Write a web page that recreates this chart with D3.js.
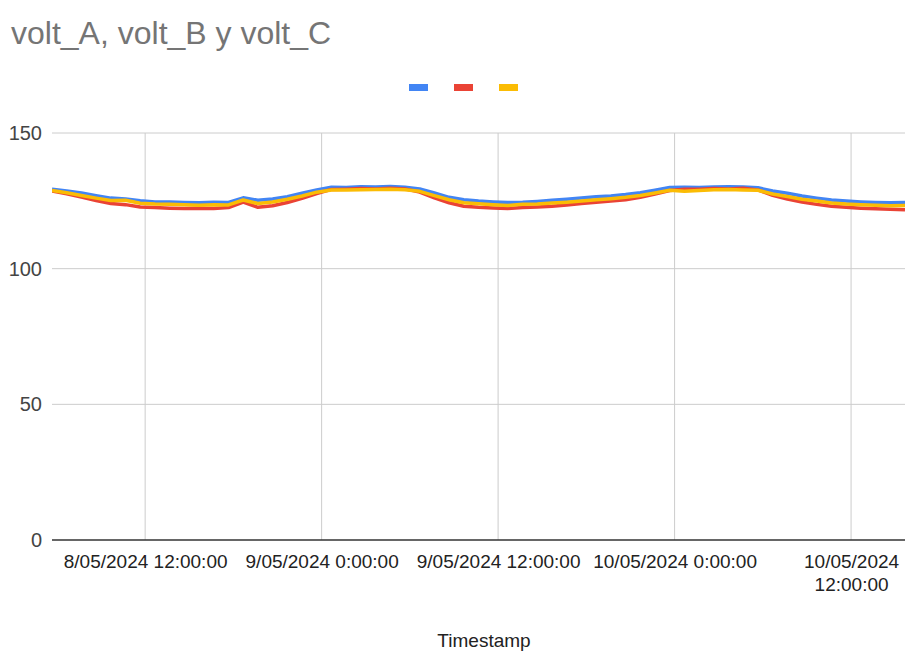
<!DOCTYPE html>
<html>
<head>
<meta charset="utf-8">
<script src="https://cdn.jsdelivr.net/npm/d3@7"></script>
<style>
  body { margin: 0; background: #fff; }
  svg { font-family: "Liberation Sans", Arial, sans-serif; }
  .grid line { stroke: #cccccc; stroke-width: 1; }
  .axis path { display: none; }
  .axis line { display: none; }
  .axis text { fill: #222; font-size: 19px; }
</style>
</head>
<body>
<div class="chart"></div>
<script>
// hourly readings, starting 8/05/2024 5:40
var startTime = new Date(2024, 4, 8, 5, 40);
var endTime = new Date(2024, 4, 10, 15, 40);

var voltA = [129.3, 128.6, 127.9, 126.9, 126.0, 125.7, 125.0, 124.6, 124.6, 124.4,
  124.3, 124.5, 124.4, 126.1, 125.2, 125.7, 126.5, 127.8, 129.0, 130.0,
  129.9, 130.2, 130.1, 130.3, 130.0, 129.4, 127.9, 126.3, 125.4, 124.9,
  124.6, 124.4, 124.5, 124.8, 125.2, 125.6, 126.0, 126.5, 126.8, 127.3,
  128.0, 128.9, 129.9, 130.0, 129.9, 130.1, 130.2, 130.1, 129.8, 128.6,
  127.8, 126.8, 126.0, 125.3, 124.9, 124.6, 124.4, 124.3, 124.4];

var voltB = [128.6, 127.6, 126.4, 125.1, 124.0, 123.6, 122.7, 122.5, 122.3, 122.2,
  122.3, 122.2, 122.5, 124.5, 122.6, 123.2, 124.4, 125.9, 127.7, 129.2,
  129.3, 129.5, 129.4, 129.6, 129.4, 128.2, 126.1, 124.3, 123.0, 122.6,
  122.4, 122.2, 122.5, 122.7, 123.0, 123.5, 124.0, 124.5, 124.9, 125.4,
  126.3, 127.5, 128.8, 129.3, 129.3, 129.5, 129.4, 129.6, 129.0, 127.0,
  125.7, 124.6, 123.7, 123.0, 122.6, 122.3, 122.1, 121.9, 121.7];

var voltC = [128.8, 128.0, 127.0, 126.0, 125.1, 125.2, 124.1, 123.8, 123.7, 123.6,
  123.4, 123.6, 123.5, 125.3, 124.0, 124.6, 125.6, 126.8, 128.2, 129.0,
  129.0, 129.1, 129.2, 129.3, 129.1, 128.5, 126.9, 125.4, 124.3, 123.9,
  123.6, 123.3, 123.7, 123.8, 124.2, 124.5, 124.9, 125.4, 125.8, 126.3,
  127.0, 127.9, 128.9, 128.5, 128.8, 129.1, 129.2, 129.0, 128.9, 127.5,
  126.6, 125.6, 124.9, 124.2, 123.8, 123.6, 123.4, 123.2, 123.3];

var seriesNames = ["volt_A", "volt_B", "volt_C"];
var seriesColors = ["#4285f4", "#ea4335", "#fbbc04"];

var tickDates = [
  new Date(2024, 4, 8, 12, 0), new Date(2024, 4, 9, 0, 0), new Date(2024, 4, 9, 12, 0),
  new Date(2024, 4, 10, 0, 0), new Date(2024, 4, 10, 12, 0)
];
var tickLabels = [
  ["8/05/2024 12:00:00"], ["9/05/2024 0:00:00"], ["9/05/2024 12:00:00"],
  ["10/05/2024 0:00:00"], ["10/05/2024", "12:00:00"]
];
var yTicks = [0, 50, 100, 150];

var width = 905, height = 652;
var margin = { top: 133, right: 0, bottom: 112, left: 52 };

var times = voltA.map(function(d, i) {
  return new Date(startTime.getTime() + i * 3600 * 1000);
});

var x = d3.scaleTime()
    .domain([startTime, endTime])
    .range([margin.left, width - margin.right]);

var y = d3.scaleLinear()
    .domain([0, 150])
    .range([height - margin.bottom, margin.top]);

var svg = d3.select(".chart").append("svg")
    .attr("width", width)
    .attr("height", height);

// title
svg.append("text")
    .attr("x", 11)
    .attr("y", 44)
    .style("font-size", "32px")
    .style("fill", "#757575")
    .text("volt_A, volt_B y volt_C");

// legend (swatches only)
svg.selectAll(".legend")
    .data(seriesColors)
  .enter().append("rect")
    .attr("class", "legend")
    .attr("x", function(d, i) { return 409 + i * 45; })
    .attr("y", 84)
    .attr("width", 19)
    .attr("height", 7)
    .attr("fill", function(d) { return d; });

// horizontal grid
svg.append("g")
    .attr("class", "grid")
  .selectAll("line")
    .data(yTicks.filter(function(d) { return d > 0; }))
  .enter().append("line")
    .attr("x1", margin.left)
    .attr("x2", width)
    .attr("y1", function(d) { return y(d); })
    .attr("y2", function(d) { return y(d); });

// vertical grid
svg.append("g")
    .attr("class", "grid")
  .selectAll("line")
    .data(tickDates)
  .enter().append("line")
    .attr("x1", function(d) { return x(d); })
    .attr("x2", function(d) { return x(d); })
    .attr("y1", y(150))
    .attr("y2", y(0));

// y axis labels
var yAxis = d3.axisLeft(y).tickValues(yTicks).tickSize(0).tickPadding(10);
svg.append("g")
    .attr("class", "axis")
    .attr("transform", "translate(" + margin.left + ",0)")
    .call(yAxis)
  .selectAll("text")
    .style("fill", "#444")
    .style("font-size", "20px");

// x axis labels
var xAxis = d3.axisBottom(x).tickValues(tickDates).tickSize(0).tickFormat(function() { return ""; });
var xg = svg.append("g")
    .attr("class", "axis")
    .attr("transform", "translate(0," + y(0) + ")")
    .call(xAxis);

xg.selectAll(".tick text").each(function(d, i) {
  var t = d3.select(this).attr("y", 0).attr("dy", null);
  tickLabels[i].forEach(function(line, j) {
    t.append("tspan")
      .attr("x", 0)
      .attr("y", 28 + j * 23)
      .text(line);
  });
});

// lines
var line = d3.line()
    .x(function(d, i) { return x(times[i]); })
    .y(function(d) { return y(d); });

svg.append("clipPath")
    .attr("id", "clip")
  .append("rect")
    .attr("x", margin.left)
    .attr("y", 0)
    .attr("width", width - margin.left)
    .attr("height", height);

[voltA, voltB, voltC].forEach(function(s, i) {
  svg.append("path")
      .datum(s)
      .attr("clip-path", "url(#clip)")
      .attr("fill", "none")
      .attr("stroke", seriesColors[i])
      .attr("stroke-width", 3.5)
      .attr("stroke-linejoin", "round")
      .attr("d", line);
});

// baseline
svg.append("line")
    .attr("x1", margin.left)
    .attr("x2", width)
    .attr("y1", y(0))
    .attr("y2", y(0))
    .attr("stroke", "#333")
    .attr("stroke-width", 1.5);

// x axis title
svg.append("text")
    .attr("x", 484)
    .attr("y", 647)
    .attr("text-anchor", "middle")
    .style("font-size", "19px")
    .style("fill", "#222")
    .text("Timestamp");
</script>
</body>
</html>
